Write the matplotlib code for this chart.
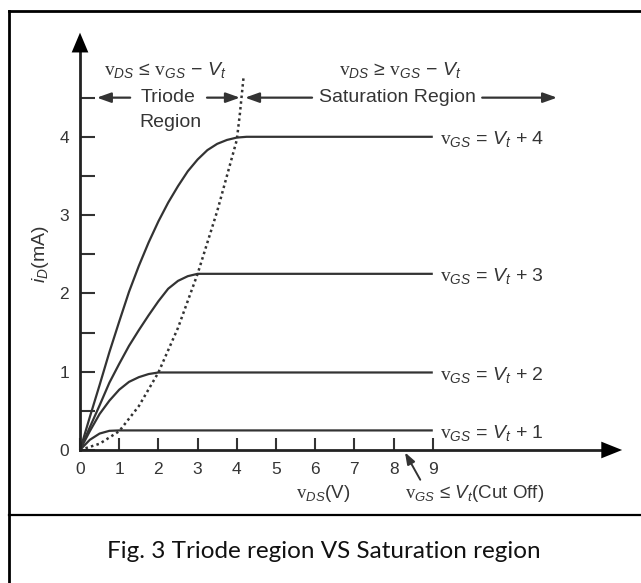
import matplotlib
matplotlib.use("Agg")
import matplotlib.pyplot as plt
from matplotlib.lines import Line2D

plt.rcParams['font.family'] = ['Liberation Sans', 'DejaVu Sans']
plt.rcParams['mathtext.fontset'] = 'custom'
plt.rcParams['mathtext.rm'] = 'Liberation Serif'
plt.rcParams['mathtext.it'] = 'Liberation Sans:italic'
plt.rcParams['mathtext.bf'] = 'Liberation Sans:bold'

# ---------------- data ----------------
vds_vt4 = [0, 0.25, 0.5, 0.75, 1.0, 1.25, 1.5, 1.75, 2.0, 2.25, 2.5, 2.75, 3.0, 3.25, 3.5, 3.75, 4.0, 4.25, 9.0]
id_vt4 = [0, 0.42, 0.83, 1.25, 1.64, 2.02, 2.35, 2.65, 2.92, 3.16, 3.37, 3.56, 3.71, 3.83, 3.91, 3.96, 3.99, 4.0, 4.0]

vds_vt3 = [0, 0.25, 0.5, 0.75, 1.0, 1.25, 1.5, 1.75, 2.0, 2.25, 2.5, 2.75, 3.0, 9.0]
id_vt3 = [0, 0.29, 0.57, 0.86, 1.1, 1.33, 1.53, 1.72, 1.9, 2.06, 2.16, 2.22, 2.25, 2.25]

vds_vt2 = [0, 0.25, 0.5, 0.75, 1.0, 1.25, 1.5, 1.75, 2.0, 9.0]
id_vt2 = [0, 0.24, 0.46, 0.63, 0.77, 0.87, 0.93, 0.97, 0.99, 0.99]

vds_vt1 = [0, 0.25, 0.5, 0.75, 1.0, 9.0]
id_vt1 = [0, 0.13, 0.21, 0.245, 0.25, 0.25]

vds_edge = [0, 0.5, 1.0, 1.5, 2.0, 2.5, 3.0, 3.5, 4.0, 4.08, 4.17]
id_edge = [0, 0.08, 0.24, 0.56, 0.99, 1.56, 2.25, 3.05, 3.96, 4.3, 4.75]

curve_labels = [r'$\mathrm{v}_{GS}$ = $V_t$ + 4', r'$\mathrm{v}_{GS}$ = $V_t$ + 3',
                r'$\mathrm{v}_{GS}$ = $V_t$ + 2', r'$\mathrm{v}_{GS}$ = $V_t$ + 1']
x_ticks = [0, 1, 2, 3, 4, 5, 6, 7, 8, 9]
x_ticklabels = ['0', '1', '2', '3', '4', '5', '6', '7', '8', '9']
y_ticks = [0, 1, 2, 3, 4]
y_ticklabels = ['0', '1', '2', '3', '4']
y_minor = [0.5, 1.5, 2.5, 3.5, 4.5]
caption = 'Fig. 3 Triode region VS Saturation region'

# ---------------- layout ----------------
W, H = 641, 583
X0, Y0 = 80, 450          # pixel position of the origin
PXV, PXMA = 39.2, 78.3    # pixels per volt / per mA
LINE = '#333333'
TXT = '#353535'

fig = plt.figure(figsize=(W / 100, H / 100), dpi=100)
ax = fig.add_axes([0, 0, 1, 1])
ax.set_xlim(-X0 / PXV, (W - X0) / PXV)
ax.set_ylim(-(H - Y0) / PXMA, Y0 / PXMA)
ax.patch.set_alpha(0)

for s in ['top', 'right']:
    ax.spines[s].set_visible(False)
ax.spines['left'].set_position(('data', 0))
ax.spines['bottom'].set_position(('data', 0))
ax.spines['left'].set_bounds(0, 5.12)
ax.spines['bottom'].set_bounds(0, 13.4)
for s in ['left', 'bottom']:
    ax.spines[s].set_linewidth(2.0)
    ax.spines[s].set_color('#222222')

ax.set_xticks(x_ticks)
ax.set_xticklabels(x_ticklabels)
ax.set_yticks(y_ticks)
ax.set_yticklabels(y_ticklabels)
ax.set_yticks(y_minor, minor=True)
ax.tick_params(axis='x', direction='in', length=9, width=1.5, color=LINE,
               labelsize=12.5, labelcolor=TXT, pad=9)
ax.tick_params(axis='y', which='both', direction='in', length=11, width=1.5, color=LINE,
               labelsize=12.5, labelcolor=TXT, pad=8)

# axis arrowheads
ax.annotate('', xy=(0, 5.33), xytext=(0, 5.05),
            arrowprops=dict(arrowstyle='-|>,head_length=0.95,head_width=0.4',
                            mutation_scale=15, lw=0, color='black',
                            shrinkA=0, shrinkB=0))
ax.annotate('', xy=(13.83, 0), xytext=(13.3, 0),
            arrowprops=dict(arrowstyle='-|>,head_length=1.0,head_width=0.4',
                            mutation_scale=15, lw=0, color='black',
                            shrinkA=0, shrinkB=0))

# characteristic curves
for xs, ys in [(vds_vt4, id_vt4), (vds_vt3, id_vt3), (vds_vt2, id_vt2), (vds_vt1, id_vt1)]:
    ax.plot(xs, ys, color=LINE, lw=1.6, solid_capstyle='butt')
ax.plot(vds_edge, id_edge, color=LINE, lw=1.8, linestyle=(0, (1, 1.3)))

# curve labels
for lab, ys in zip(curve_labels, [id_vt4, id_vt3, id_vt2, id_vt1]):
    ax.text(9.18, ys[-1] - 0.03, lab, fontsize=14, color=TXT, ha='left', va='center')

# region annotations
ax.text(2.17, 4.85, r'$\mathrm{v}_{DS}$ ≤ $\mathrm{v}_{GS}$ − $V_t$', fontsize=14,
        color=TXT, ha='center', va='center')
ax.text(8.16, 4.85, r'$\mathrm{v}_{DS}$ ≥ $\mathrm{v}_{GS}$ − $V_t$', fontsize=14,
        color=TXT, ha='center', va='center')
ax.text(2.25, 4.5, 'Triode', fontsize=14, color=TXT, ha='center', va='center')
ax.text(2.30, 4.18, 'Region', fontsize=14, color=TXT, ha='center', va='center')
ax.text(8.09, 4.5, 'Saturation Region', fontsize=14, color=TXT, ha='center', va='center')

arrow_kw = dict(arrowstyle='-|>,head_length=0.7,head_width=0.25', mutation_scale=12,
                lw=1.6, color=LINE, shrinkA=0, shrinkB=0)
ax.annotate('', xy=(0.43, 4.5), xytext=(1.28, 4.5), arrowprops=arrow_kw)
ax.annotate('', xy=(4.08, 4.5), xytext=(3.24, 4.5), arrowprops=arrow_kw)
ax.annotate('', xy=(4.21, 4.5), xytext=(5.92, 4.5), arrowprops=arrow_kw)
ax.annotate('', xy=(12.17, 4.5), xytext=(10.26, 4.5), arrowprops=arrow_kw)

# axis labels
ax.text(-1.02, 2.5, r'$i_D$(mA)', fontsize=14, color=TXT, rotation=90,
        ha='center', va='center')
ax.text(6.2, -0.55, r'$\mathrm{v}_{DS}$(V)', fontsize=13.5, color=TXT, ha='center', va='center')
ax.text(8.3, -0.55, r'$\mathrm{v}_{GS}$ ≤ $V_t$(Cut Off)', fontsize=13.5, color=TXT,
        ha='left', va='center')
ax.annotate('', xy=(8.29, -0.03), xytext=(8.68, -0.38),
            arrowprops=dict(arrowstyle='-|>,head_length=0.7,head_width=0.25',
                            mutation_scale=10, lw=1.4, color=LINE, shrinkA=0, shrinkB=0))

# frame and caption box
LEFT = 9 / W
TOP = 1 - 11 / H
DIV = 1 - 515 / H
fig.add_artist(Line2D([LEFT, LEFT], [0, TOP], transform=fig.transFigure, color='black', lw=2))
fig.add_artist(Line2D([LEFT, 1], [TOP, TOP], transform=fig.transFigure, color='black', lw=2))
fig.add_artist(Line2D([LEFT, 1], [DIV, DIV], transform=fig.transFigure, color='black', lw=1.6))
fig.text(0.505, 1 - 551 / H, caption, fontsize=17.5, family='Lato', color='#111111',
         ha='center', va='center')

fig.savefig('out.png', dpi=100)
